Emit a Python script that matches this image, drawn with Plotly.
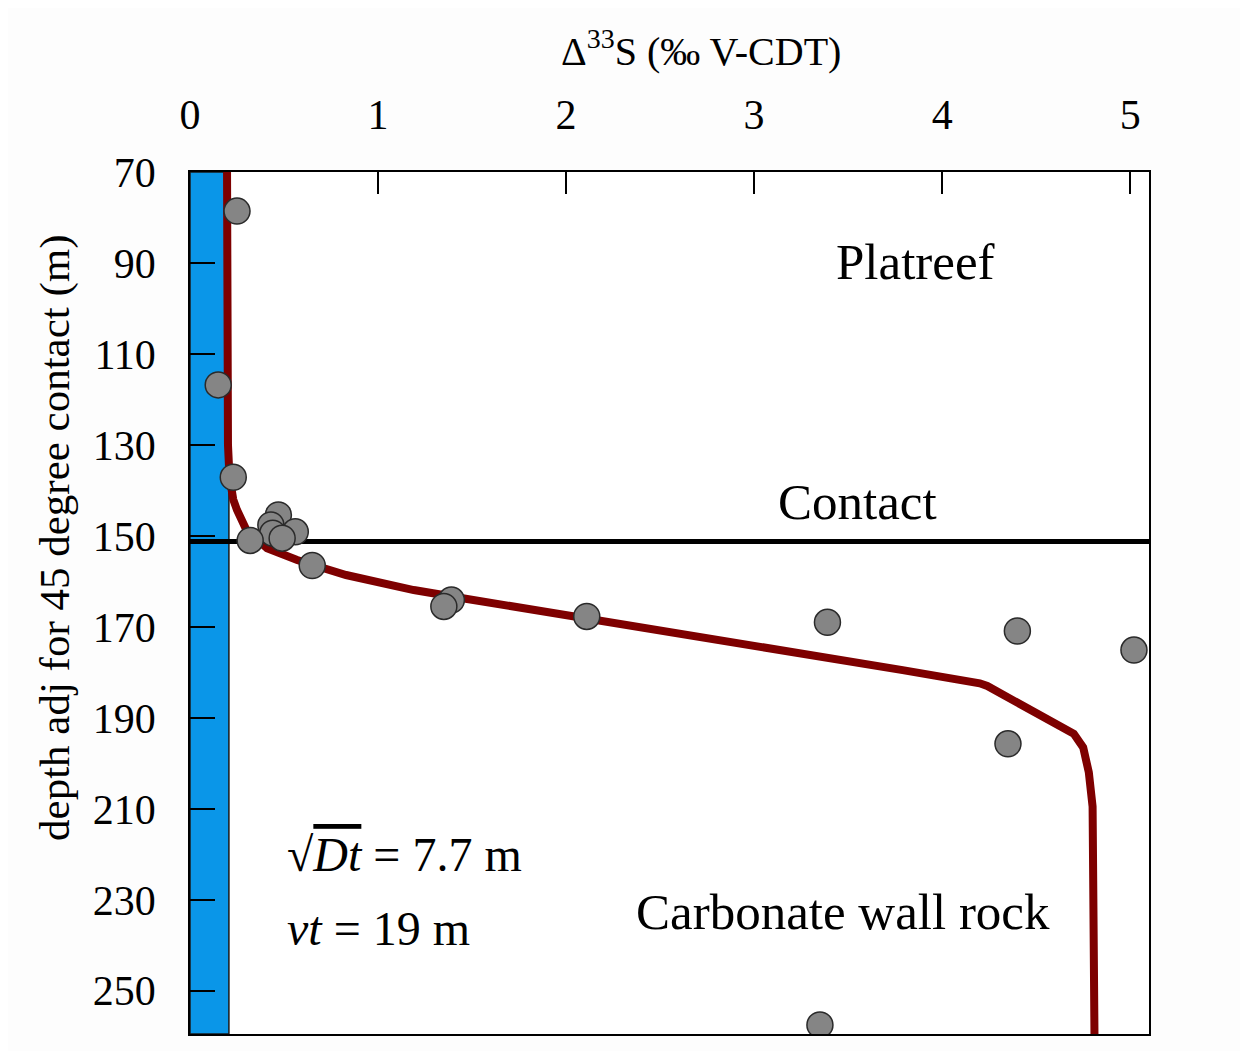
import plotly.graph_objects as go

# --- data ---
sample_d33s = [0.25, 0.15, 0.23, 0.47, 0.43, 0.56, 0.44, 0.32, 0.49, 0.65,
               1.39, 1.35, 2.11, 3.39, 4.40, 5.02, 4.35, 3.35]
sample_depth = [78.6, 116.8, 137.1, 145.4, 147.6, 149.1, 149.4, 151.0, 150.5, 156.5,
                164.1, 165.5, 167.7, 169.0, 170.9, 175.1, 195.7, 257.5]

model_d33s = [0.197, 0.198, 0.202, 0.21, 0.23, 0.25, 0.30, 0.41, 0.57, 0.83, 1.19,
              1.45, 1.72, 2.07, 2.20, 2.73, 3.26, 3.79, 4.20, 4.24, 4.70, 4.75,
              4.78, 4.80, 4.81]
model_depth = [70, 110, 130, 137, 142, 144.3, 148.7, 152.7, 155.3, 158.6, 161.9,
               163.7, 165.5, 167.7, 168.8, 172.1, 175.8, 179.5, 182.4, 183.0, 193.5,
               196.5, 202.0, 209.5, 259.5]

contact_depth = 151.25
background_d33s = 0.207

x_ticks = [0, 1, 2, 3, 4, 5]
y_ticks = [70, 90, 110, 130, 150, 170, 190, 210, 230, 250]
x_range = [0, 5.1]
y_range = [259.5, 70]

FONT = "Liberation Serif"

fig = go.Figure()

# blue band (background value)
fig.add_shape(type="rect", xref="x", yref="y", x0=0, x1=background_d33s,
              y0=y_range[0], y1=y_range[1], fillcolor="#0A96E8",
              line=dict(color="#1a1a1a", width=1.5), layer="below")

# contact line
fig.add_trace(go.Scatter(x=x_range, y=[contact_depth, contact_depth], mode="lines",
                         line=dict(color="black", width=5), hoverinfo="skip",
                         showlegend=False))

# model curve
fig.add_trace(go.Scatter(x=model_d33s, y=model_depth, mode="lines",
                         line=dict(color="#7E0000", width=8), showlegend=False))

# samples
fig.add_trace(go.Scatter(x=sample_d33s, y=sample_depth, mode="markers",
                         marker=dict(size=26, color="#858585",
                                     line=dict(color="#2a2a2a", width=1.5)),
                         showlegend=False))

ann_font = dict(family=FONT, size=51, color="black")
fig.add_annotation(x=3.86, y=89.8, text="Platreef", showarrow=False, font=ann_font)
fig.add_annotation(x=3.55, y=142.5, text="Contact", showarrow=False, font=ann_font)
fig.add_annotation(x=3.47, y=232.6, text="Carbonate wall rock", showarrow=False, font=ann_font)

eq_font = dict(family=FONT, size=48, color="black")
fig.add_annotation(x=0.505, y=220.1, xanchor="left",
                   text="√<span style=\"text-decoration:overline\"><i>Dt</i></span> = 7.7 m",
                   showarrow=False, font=eq_font)
fig.add_annotation(x=0.505, y=236.2, xanchor="left",
                   text="<i>vt</i> = 19 m", showarrow=False, font=eq_font)

# axis titles
fig.add_annotation(xref="paper", yref="paper", x=0.533, y=1.0, yshift=124,
                   yanchor="middle",
                   text="Δ<sup>33</sup>S (‰ V-CDT)", showarrow=False,
                   font=dict(family=FONT, size=40, color="black"))
fig.add_annotation(xref="paper", yref="paper", x=-0.1408, y=0.5766,
                   xanchor="center", yanchor="middle", textangle=-90,
                   text="depth adj for 45 degree contact (m)", showarrow=False,
                   font=dict(family=FONT, size=43, color="black"))

fig.update_xaxes(side="top", range=x_range, tickvals=x_ticks, ticks="inside",
                 ticklen=22, tickwidth=1.5, tickcolor="black", showgrid=False,
                 zeroline=False, showline=True, linecolor="black", linewidth=1.5,
                 mirror=True, ticklabelstandoff=24,
                 tickfont=dict(family=FONT, size=42, color="black"))
fig.update_yaxes(range=y_range, tickvals=y_ticks, ticks="inside",
                 ticklen=25, tickwidth=1.5, tickcolor="black", showgrid=False,
                 zeroline=False, showline=True, linecolor="black", linewidth=1.5,
                 mirror=True, ticklabelstandoff=24,
                 tickfont=dict(family=FONT, size=42, color="black"))

fig.update_layout(width=1248, height=1051,
                  margin=dict(l=182, r=107, t=164, b=25),
                  paper_bgcolor="#FDFDFD", plot_bgcolor="white",
                  showlegend=False)

fig.write_html("out.html")
